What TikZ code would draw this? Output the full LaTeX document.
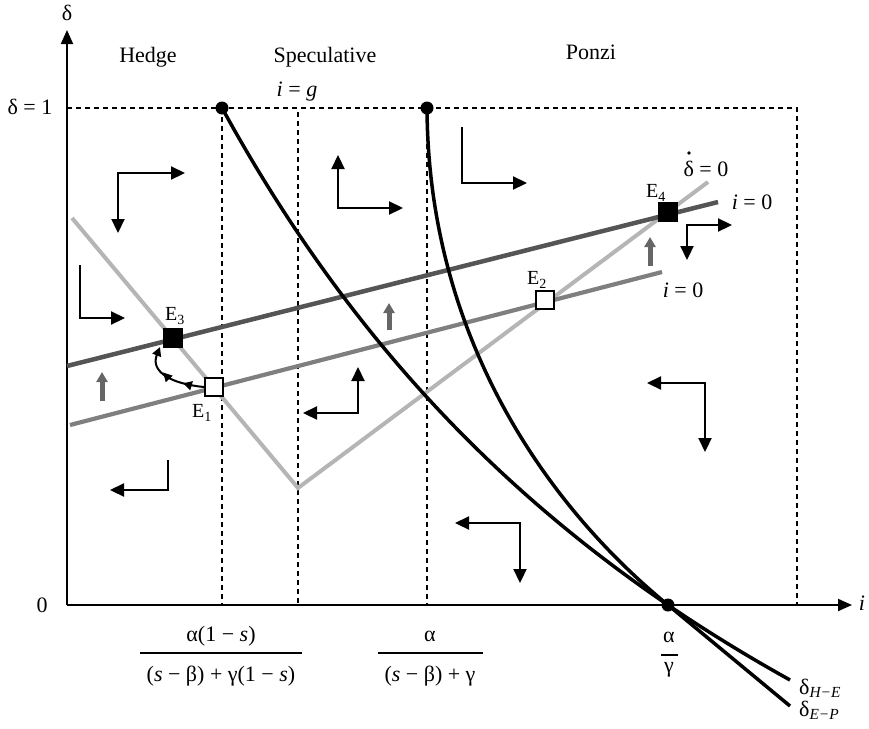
\documentclass[tikz,border=0pt]{standalone}
\usepackage{fontspec}
\setmainfont{Liberation Serif}
\usetikzlibrary{arrows.meta,decorations.markings}
\definecolor{lgray}{HTML}{B5B5B5}
\definecolor{mgray}{HTML}{7F7F7F}
\definecolor{dgray}{HTML}{555555}
\definecolor{agray}{HTML}{666666}
\begin{document}
\begin{tikzpicture}[x=1pt,y=-1pt,font=\fontsize{22}{26}\selectfont,
  axis/.style={line width=2pt,-{Triangle[length=14pt,width=12pt]}},
  guide/.style={line width=1.5pt,dash pattern=on 5pt off 4pt},
  bigcurve/.style={line width=3.5pt},
  vline/.style={line width=4pt,lgray},
  lowline/.style={line width=4.2pt,mgray},
  upline/.style={line width=4.5pt,dgray},
  elbow/.style={line width=2.2pt,miter limit=10,{Triangle[length=14pt,width=13pt]}-{Triangle[length=14pt,width=13pt]}},
  grayup/.style={line width=5pt,agray,-{Triangle[length=10pt,width=11pt]}},
  eqfill/.style={draw=black,fill=black,line width=1.5pt,minimum size=19pt,inner sep=0pt},
  eqopen/.style={draw=black,fill=white,line width=2pt,minimum size=18pt,inner sep=0pt},
  eqlab/.style={font=\fontsize{20}{24}\selectfont,inner sep=1pt},
  lab/.style={inner sep=1pt},
  fracbar/.style={line width=2pt},
  blackdot/.style={circle,fill=black,minimum size=13pt,inner sep=0pt},
  accentdot/.style={circle,fill=black,minimum size=3.6pt,inner sep=0pt},
  small/.style={line width=2pt,-{Triangle[length=9pt,width=9pt]},
    postaction={decorate},decoration={markings,
      mark=at position 0.3 with {\arrow{Triangle[length=9pt,width=9pt]}},
      mark=at position 0.62 with {\arrow{Triangle[length=9pt,width=9pt]}}}}
]
\useasboundingbox (0,0) rectangle (869,728);

% guides
\coordinate (Y1) at (67,108);
\coordinate (R1) at (797,108);
\coordinate (R0) at (797,605);
\draw[guide] (Y1) -- (R1) -- (R0);
\draw[guide] (222,108) -- (222,605);
\draw[guide] (298,112) -- (298,605);
\draw[guide] (427,108) -- (427,605);

% axes
\coordinate (O) at (67,605);
\coordinate (Ytop) at (67,30);
\coordinate (Xend) at (852,605);
\draw[axis] (O) -- (Ytop);
\draw[axis] (O) -- (Xend);

% lines
\coordinate (VL) at (72,218);
\coordinate (VB) at (298,488);
\coordinate (VR) at (708,182);
\draw[vline,line join=miter] (VL) -- (VB) -- (VR);
\coordinate (LL) at (70,425);
\coordinate (LR) at (662,272);
\draw[lowline] (LL) -- (LR);
\coordinate (UL) at (67,366);
\coordinate (UR) at (718,202);
\draw[upline] (UL) -- (UR);

% curves
\draw[bigcurve] plot[domain=222:790,samples=150] (\x,{605-7.78*(668-\x)/((\x+476)/100)});
\draw[bigcurve] (427,108) .. controls (428,330) and (540,500) .. (668,605) -- (790,706);
\node[blackdot] (D1) at (222,108) {};
\node[blackdot] (D2) at (427,108) {};
\node[blackdot] (D3) at (668,605) {};

% equilibria
\node[eqfill] (E3) at (173,338) {};
\node[eqfill] (E4) at (668,212) {};
\node[eqopen] (E1) at (214,387) {};
\node[eqopen] (E2) at (545,300) {};
\node[eqlab] (lE3) at (175,316) {E\textsubscript{3}};
\node[eqlab] (lE4) at (656,193) {E\textsubscript{4}};
\node[eqlab] (lE1) at (202,413) {E\textsubscript{1}};
\node[eqlab] (lE2) at (537,280) {E\textsubscript{2}};

% path E1 -> E3
\draw[small] (E1.west) .. controls (172,384) and (150,372) .. (160,347);

% gray arrows
\draw[grayup] (102,401) -- (102,372);
\draw[grayup] (389,330) -- (389,303);
\draw[grayup] (650,266) -- (650,237);

% elbow arrows
\draw[elbow] (185,173) -- (118,173) -- (118,233);
\draw[elbow,{Triangle[length=14pt,width=13pt]}-] (125,318) -- (80,318) -- (80,265);
\draw[elbow] (338,155) -- (338,208) -- (403,208);
\draw[elbow,{Triangle[length=14pt,width=13pt]}-] (527,183) -- (462,183) -- (462,127);
\draw[elbow] (732,225) -- (687,225) -- (687,260);
\draw[elbow] (358,367) -- (358,413) -- (303,413);
\draw[elbow] (647,383) -- (705,383) -- (705,452);
\draw[elbow,{Triangle[length=14pt,width=13pt]}-] (110,490) -- (168,490) -- (168,460);
\draw[elbow] (455,523) -- (520,523) -- (520,583);

% labels
\node[lab] (ldelta) at (67,13) {δ};
\node[lab] (li) at (862,603) {\textit{i}};
\node[lab] (ld1) at (30,107) {δ = 1};
\node[lab] (l0) at (42,605) {0};
\node[lab] (lH) at (148,57) {Hedge};
\node[lab] (lS) at (325,57) {Speculative};
\node[lab] (lP) at (591,52) {Ponzi};
\node[lab] (lig) at (297,92) {\textit{i} = \textit{g}};
\node[lab] (ldd) at (706,169) {δ = 0};
\node[accentdot] (ddot) at (689,153) {};
\node[lab] (li0a) at (752,202) {\textit{i} = 0};
\node[lab] (li0b) at (683,290) {\textit{i} = 0};
\node[lab,anchor=west] (lHE) at (798,688) {δ\textsubscript{\textit{H−E}}};
\node[lab,anchor=west] (lEP) at (798,710) {δ\textsubscript{\textit{E−P}}};

% fractions
\node[lab] (f1n) at (221,636) {α(1 − \textit{s})};
\node[lab] (f1d) at (221,676) {(\textit{s} − β) + γ(1 − \textit{s})};
\coordinate (f1a) at (140,653);
\coordinate (f1b) at (302,653);
\draw[fracbar] (f1a) -- (f1b);
\node[lab] (f2n) at (430,636) {α};
\node[lab] (f2d) at (430,676) {(\textit{s} − β) + γ};
\coordinate (f2a) at (378,653);
\coordinate (f2b) at (483,653);
\draw[fracbar] (f2a) -- (f2b);
\node[lab] (f3n) at (669,637) {α};
\node[lab] (f3d) at (669,670) {γ};
\coordinate (f3a) at (661,655);
\coordinate (f3b) at (678,655);
\draw[fracbar] (f3a) -- (f3b);
\end{tikzpicture}
\end{document}
